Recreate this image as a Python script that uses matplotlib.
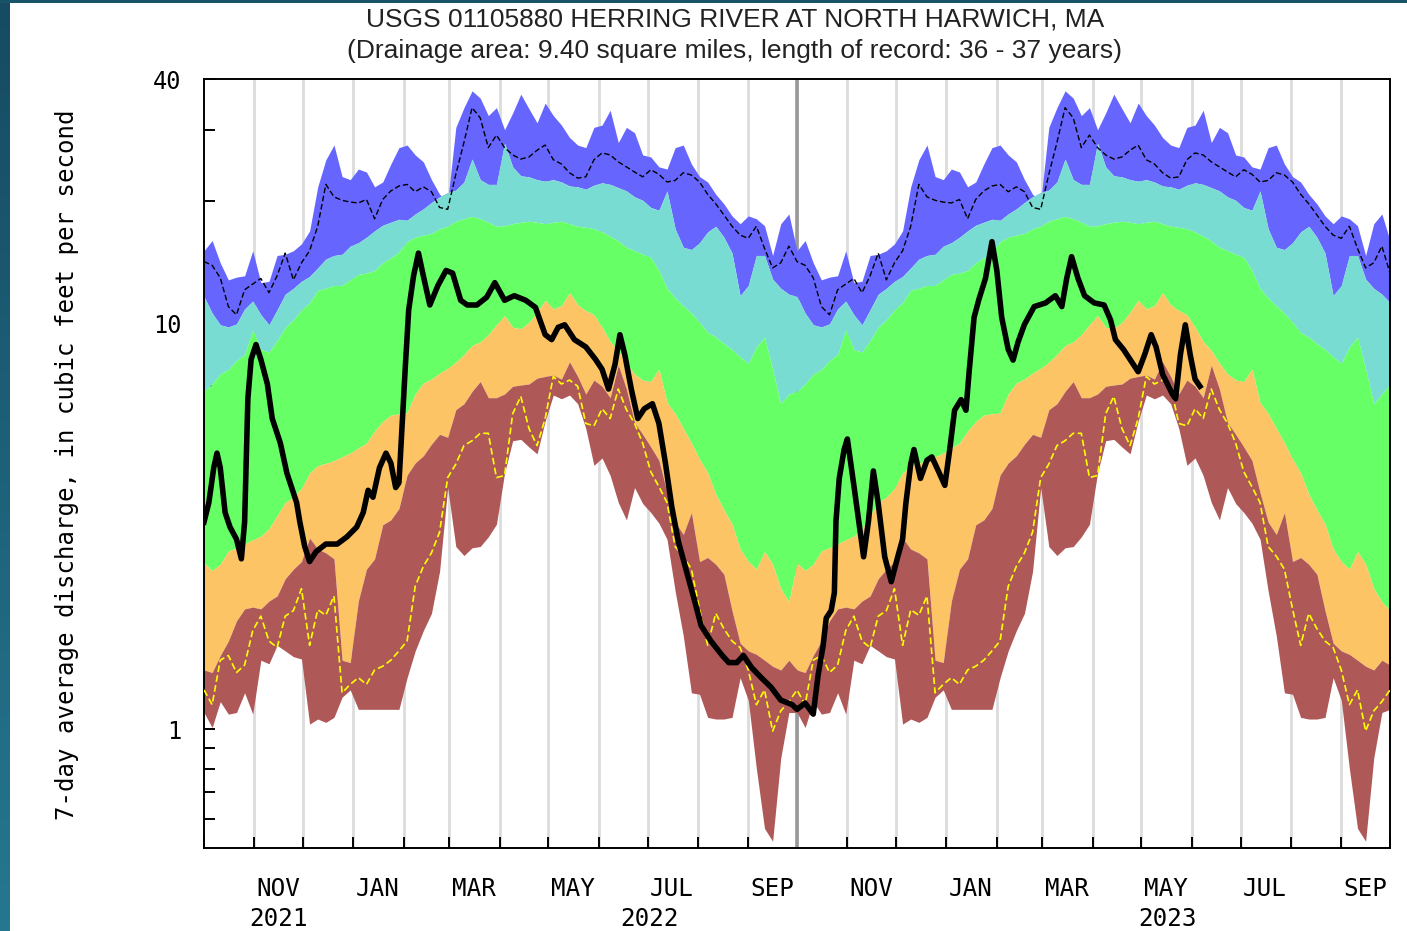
import numpy as np
import matplotlib
matplotlib.use("Agg")
import matplotlib.pyplot as plt
import matplotlib.dates as mdates
from matplotlib.ticker import FixedLocator, FixedFormatter, NullFormatter

# ---- data ----
start = np.datetime64("2021-10-01")
end = np.datetime64("2023-10-01")

# daily statistics, by day of water year (0 = Oct 1), every 5 days
clim_day = np.arange(0, 366, 5)
q_max = [15.1, 16.0, 14.1, 12.8, 13.0, 13.1, 15.1, 12.6, 12.7, 14.7,
         14.8, 15.1, 15.7, 16.9, 21.7, 25.3, 27.5, 23.0, 22.6, 24.0,
         23.6, 21.7, 22.3, 24.7, 27.1, 27.5, 26.0, 25.0, 22.6, 20.8,
         20.0, 30.4, 34.0, 37.4, 35.9, 32.5, 34.0, 30.0, 33.0, 36.7,
         33.8, 31.2, 34.9, 32.5, 30.8, 28.7, 27.5, 27.1, 30.4, 30.8,
         33.5, 27.9, 30.4, 29.5, 26.0, 25.7, 24.3, 24.0, 27.1, 27.5,
         24.7, 23.0, 22.3, 20.8, 19.7, 18.4, 17.6, 18.4, 18.1, 17.4,
         14.7, 17.6, 18.6, 16.0]
q_p90 = [11.65, 10.6, 9.92, 9.8, 9.97, 10.85, 11.35, 10.5, 9.92, 10.8,
         11.8, 12.2, 12.7, 13.05, 13.7, 14.4, 14.7, 14.8, 15.5, 15.8,
         16.3, 16.9, 17.45, 17.75, 18.05, 17.95, 18.6, 19.15, 19.85, 20.5,
         21.0, 21.3, 22.3, 25.4, 22.6, 22.0, 22.0, 27.8, 24.3, 23.1,
         22.96, 22.6, 22.4, 22.6, 22.3, 21.8, 21.7, 21.4, 21.9, 22.2,
         22.0, 21.6, 21.2, 20.5, 20.1, 19.3, 19.0, 21.2, 17.1, 15.4,
         15.2, 15.8, 16.8, 17.35, 16.3, 14.9, 11.7, 12.4, 14.7, 14.7,
         12.85, 12.2, 11.8, 11.25]
q_p75 = [6.8, 7.09, 7.5, 7.7, 8.1, 8.38, 9.64, 8.62, 8.5, 9.07,
         9.78, 10.2, 10.8, 11.25, 12.06, 12.2, 12.4, 12.4, 12.8, 13.2,
         13.3, 13.5, 14.1, 14.5, 15.0, 15.9, 16.3, 16.5, 16.65, 17.1,
         17.35, 17.85, 18.1, 18.35, 18.1, 17.75, 17.35, 17.4, 17.6, 17.75,
         17.85, 17.75, 17.6, 17.75, 17.85, 17.6, 17.35, 17.25, 17.1, 16.8,
         16.4, 15.96, 15.4, 15.1, 14.8, 14.55, 13.5, 12.2, 11.55, 11.05,
         10.6, 10.05, 9.5, 9.25, 8.92, 8.62, 8.27, 7.97, 8.75, 9.25,
         7.71, 6.34, 6.7, 7.09]
q_p25 = [2.57, 2.46, 2.55, 2.75, 2.80, 2.86, 2.93, 2.99, 3.12, 3.36,
         3.62, 3.73, 3.92, 4.28, 4.46, 4.52, 4.59, 4.69, 4.79, 4.93,
         5.07, 5.43, 5.73, 5.94, 5.99, 6.02, 6.7, 7.13, 7.29, 7.54,
         7.75, 8.02, 8.38, 8.82, 9.0, 9.38, 9.92, 10.45, 9.78, 9.7,
         10.05, 10.65, 11.4, 10.85, 11.05, 11.9, 11.1, 10.75, 10.5, 9.78,
         9.02, 8.57, 7.97, 7.5, 7.25, 7.19, 7.71, 6.38, 5.99, 5.51,
         5.07, 4.63, 4.28, 3.79, 3.47, 3.2, 2.78, 2.59, 2.48, 2.74,
         2.55, 2.22, 2.06, 1.96]
q_p10 = [1.40, 1.38, 1.52, 1.65, 1.85, 1.98, 2.0, 1.98, 2.07, 2.13,
         2.35, 2.48, 2.59, 2.96, 2.78, 2.72, 2.63, 1.48, 1.46, 2.07,
         2.48, 2.63, 3.19, 3.28, 3.5, 4.23, 4.53, 4.72, 5.04, 5.33,
         5.24, 6.13, 6.34, 6.8, 7.19, 6.56, 6.56, 6.7, 7.0, 7.05,
         7.09, 7.33, 7.4, 7.46, 7.29, 8.04, 7.4, 6.7, 7.25, 7.0,
         6.56, 7.89, 6.89, 5.7, 5.33, 4.96, 4.6, 3.83, 3.24, 3.02,
         3.42, 2.59, 2.65, 2.55, 2.41, 1.96, 1.63, 1.56, 1.53, 1.48,
         1.43, 1.40, 1.48, 1.44]
q_min = [1.10, 1.01, 1.17, 1.09, 1.10, 1.23, 1.09, 1.48, 1.45, 1.61,
         1.56, 1.51, 1.49, 1.03, 1.06, 1.04, 1.07, 1.20, 1.25, 1.12,
         1.12, 1.12, 1.12, 1.12, 1.12, 1.34, 1.56, 1.75, 1.93, 2.45,
         3.94, 2.82, 2.68, 2.8, 2.82, 2.98, 3.2, 4.28, 5.14, 5.18,
         4.96, 4.77, 5.75, 6.66, 6.52, 6.66, 6.34, 5.51, 4.47, 4.66,
         4.22, 3.62, 3.28, 3.94, 3.6, 3.42, 3.22, 2.94, 2.19, 1.70,
         1.23, 1.22, 1.07, 1.06, 1.06, 1.07, 1.34, 1.18, 0.80, 0.57,
         0.53, 0.85, 1.10, 1.12]
q_black_dash = [14.2, 13.9, 12.95, 11.0, 10.5, 12.1, 12.5, 12.9, 11.9, 13.1,
                14.9, 12.8, 14.1, 15.1, 17.35, 22.0, 20.5, 20.1, 19.9, 19.8,
                20.2, 18.1, 20.2, 21.2, 21.8, 22.0, 21.1, 21.7, 21.1, 19.3,
                19.1, 23.3, 27.9, 34.0, 32.1, 27.1, 29.1, 27.1, 26.0, 25.4,
                25.7, 26.7, 27.5, 25.3, 24.7, 23.5, 22.8, 22.96, 25.3, 26.3,
                26.0, 25.0, 24.3, 23.6, 22.96, 23.9, 23.3, 22.3, 22.5, 23.5,
                23.2, 22.3, 20.8, 19.7, 18.5, 17.35, 16.5, 16.2, 17.35, 15.3,
                13.7, 14.1, 15.5, 13.3]
q_yellow_dash = [1.25, 1.15, 1.48, 1.52, 1.38, 1.44, 1.75, 1.90, 1.65, 1.59,
                 1.90, 1.96, 2.22, 1.61, 1.97, 1.91, 2.13, 1.23, 1.29, 1.34,
                 1.29, 1.40, 1.43, 1.48, 1.56, 1.65, 2.25, 2.52, 2.72, 3.06,
                 4.17, 4.5, 5.0, 5.14, 5.36, 5.36, 4.17, 4.22, 5.99, 6.61,
                 5.51, 5.0, 5.83, 7.4, 7.09, 7.25, 7.0, 5.67, 5.59, 6.16,
                 5.83, 6.89, 6.13, 5.67, 5.07, 4.31, 3.96, 3.62, 2.82, 2.67,
                 2.48, 1.98, 1.61, 1.93, 1.77, 1.65, 1.59, 1.40, 1.15, 1.25,
                 0.99, 1.11, 1.17, 1.25]

# current 7-day flow, days since Oct 1 2021
cur_day = [0, 3, 6, 8, 10, 13, 16, 20, 23, 25, 27, 29, 32, 35, 39, 42, 47, 51,
           54, 57, 59, 62, 65, 69, 75, 82, 88, 94, 98, 101, 104, 108, 112, 115,
           118, 120, 122, 124, 126, 129, 132, 135, 139, 144, 149, 153, 158, 162,
           168, 174, 179, 185, 191, 198, 204, 210, 214, 218, 222, 228, 235, 241,
           245, 249, 253, 256, 259, 263, 267, 271, 276, 280, 284, 288, 292, 297,
           302, 306, 312, 319, 323, 328, 332, 337, 343, 349, 355, 362, 365,
           370, 375, 378, 381, 383, 386, 388, 389, 391, 394, 396, 400, 403, 406,
           409, 412, 415, 419, 423, 427, 430, 432, 435, 437, 441, 445, 448, 452,
           456, 459, 462, 466, 469, 471, 474, 477, 481, 485, 488, 491, 495, 498,
           501, 505, 511, 518, 524, 528, 531, 534, 538, 542, 548, 554, 558, 561,
           566, 571, 575, 579, 583, 586, 590, 596, 598, 601, 604, 607, 610, 613]
cur_q = [3.24, 3.62, 4.41, 4.79, 4.41, 3.42, 3.15, 2.94, 2.63, 3.24, 6.52, 8.15,
         8.87, 8.15, 7.09, 5.83, 5.07, 4.28, 3.94, 3.62, 3.24, 2.82, 2.59, 2.74,
         2.86, 2.86, 2.98, 3.15, 3.42, 3.88, 3.73, 4.41, 4.79, 4.53, 3.94, 4.05,
         5.67, 7.93, 10.8, 13.1, 14.9, 13.1, 11.1, 12.4, 13.5, 13.3, 11.4, 11.1,
         11.1, 11.6, 12.6, 11.4, 11.7, 11.4, 10.95, 9.38, 9.12, 9.78, 9.92, 9.12,
         8.75, 8.15, 7.71, 6.89, 7.93, 9.38, 8.38, 6.89, 5.83, 6.16, 6.34, 5.67,
         4.53, 3.52, 2.90, 2.45, 2.07, 1.80, 1.65, 1.52, 1.46, 1.46, 1.52, 1.42,
         1.34, 1.27, 1.18, 1.15, 1.12,
         1.16, 1.09, 1.36, 1.60, 1.88, 1.96, 2.17, 3.26, 4.15, 4.89, 5.19, 3.99,
         3.26, 2.66, 3.26, 4.33, 3.60, 2.66, 2.31, 2.66, 2.94, 3.60, 4.50, 4.89,
         4.15, 4.60, 4.69, 4.33, 3.99, 4.89, 6.11, 6.49, 6.11, 7.64, 10.35, 11.47,
         12.9, 15.9, 13.5, 10.35, 8.63, 8.12, 8.98, 9.94, 11.0, 11.23, 11.7, 11.0,
         12.9, 14.6, 12.9, 11.7, 11.23, 11.1, 10.2, 9.12, 8.62, 8.04, 7.6, 8.38,
         9.38, 8.75, 7.5, 6.7, 6.52, 8.38, 9.92, 8.38, 7.29, 7.0]

month_labels = ["NOV", "JAN", "MAR", "MAY", "JUL", "SEP",
                "NOV", "JAN", "MAR", "MAY", "JUL", "SEP"]
label_months = ["2021-11", "2022-01", "2022-03", "2022-05", "2022-07", "2022-09",
                "2022-11", "2023-01", "2023-03", "2023-05", "2023-07", "2023-09"]
year_labels = ["2021", "2022", "2023"]

title1 = "USGS 01105880 HERRING RIVER AT NORTH HARWICH, MA"
title2 = "(Drainage area: 9.40 square miles, length of record: 36 - 37 years)"
ylabel = "7-day average discharge, in cubic feet per second"


def two_years(v):
    v = np.asarray(v, dtype=float)
    return np.concatenate([v[:-1], v])


days2 = np.concatenate([clim_day[:-1], clim_day + 365])
dates = start + days2.astype("timedelta64[D]")
cur_dates = start + np.array(cur_day).astype("timedelta64[D]")

mono = "DejaVu Sans Mono"

fig = plt.figure(figsize=(14.07, 9.31), dpi=100)
fig.patch.set_facecolor("white")

# teal screenshot border (left and top)
edge = fig.add_axes([0, 0, 10 / 1407, 1])
edge.imshow(np.linspace(0, 1, 100).reshape(-1, 1), aspect="auto",
            cmap=matplotlib.colors.LinearSegmentedColormap.from_list(
                "edge", ["#164b63", "#25778f"]), extent=[0, 1, 0, 1])
edge.axis("off")
top = fig.add_axes([0, 1 - 3 / 931, 1, 3 / 931])
top.axis("off")
top.add_patch(plt.Rectangle((0, 0), 1, 1, color="#185468", transform=top.transAxes))

ax = fig.add_axes([204 / 1407, 1 - 848 / 931, 1186 / 1407, 769 / 931])
ax.set_axisbelow(True)

ax.fill_between(dates, two_years(q_p90), two_years(q_max), color="#6666ff", lw=0)
ax.fill_between(dates, two_years(q_p75), two_years(q_p90), color="#78dcd2", lw=0)
ax.fill_between(dates, two_years(q_p25), two_years(q_p75), color="#66ff66", lw=0)
ax.fill_between(dates, two_years(q_p10), two_years(q_p25), color="#fdc466", lw=0)
ax.fill_between(dates, two_years(q_min), two_years(q_p10), color="#ae5858", lw=0)

ax.plot(dates, two_years(q_black_dash), color="black", lw=1.0,
        linestyle=(0, (4, 2)), zorder=3)
ax.plot(dates, two_years(q_yellow_dash), color="#ffff00", lw=1.2,
        linestyle=(0, (4, 2)), zorder=3)
ax.plot(cur_dates, cur_q, color="black", lw=4.0, zorder=4)

# month gridlines + water-year divider
month_starts = np.arange("2021-10", "2023-11", dtype="datetime64[M]").astype("datetime64[D]")
for m in month_starts[1:-1]:
    ax.axvline(m, color="#dcdcdc", lw=2, zorder=0.5)
ax.axvline(np.datetime64("2022-10-01"), color="#999999", lw=2.6, zorder=0.6)

ax.set_xlim(start, end)
ax.set_yscale("log")
ax.set_ylim(0.51, 40)

ax.yaxis.set_major_locator(FixedLocator([1, 10, 40]))
ax.yaxis.set_major_formatter(FixedFormatter(["1", "10", "40"]))
ax.yaxis.set_minor_locator(FixedLocator([0.6, 0.7, 0.8, 0.9, 2, 3, 4, 5, 6, 7, 8, 9, 20, 30]))
ax.yaxis.set_minor_formatter(NullFormatter())
ax.tick_params(axis="y", which="both", direction="in", length=8, width=1.4,
               labelsize=17, pad=16)
for t in ax.get_yticklabels():
    t.set_fontfamily(mono)

ax.set_xticks(mdates.date2num(month_starts))
ax.set_xticklabels([])
ax.tick_params(axis="x", which="major", direction="in", length=8, width=1.4)

for s in ax.spines.values():
    s.set_linewidth(1.4)

xt = ax.get_xaxis_transform()
for m, name in zip(np.array(label_months, dtype="datetime64[M]"), month_labels):
    a = m.astype("datetime64[D]")
    b = (m + 1).astype("datetime64[D]")
    mid = a + (b - a) / 2
    ax.text(mdates.date2num(mid), -0.053, name, transform=xt, ha="center",
            va="center", fontsize=17.5, fontfamily=mono)

for y in year_labels:
    a = max(np.datetime64(y + "-01-01"), start)
    b = min(np.datetime64(str(int(y) + 1) + "-01-01"), end)
    mid = a + (b - a) / 2
    ax.text(mdates.date2num(mid), -0.092, y, transform=xt, ha="center",
            va="center", fontsize=17.5, fontfamily=mono)

fig.text(67 / 1407, 1 - 465 / 931, ylabel, rotation=90, ha="center", va="center",
         fontsize=17.3, fontfamily=mono)

fig.text(735 / 1407, 1 - 20 / 931, title1, ha="center", va="center",
         fontsize=19, fontfamily="Liberation Sans", color="#222222")
fig.text(735 / 1407, 1 - 51 / 931, title2, ha="center", va="center",
         fontsize=19, fontfamily="Liberation Sans", color="#222222")

fig.savefig("out.png", dpi=100)
